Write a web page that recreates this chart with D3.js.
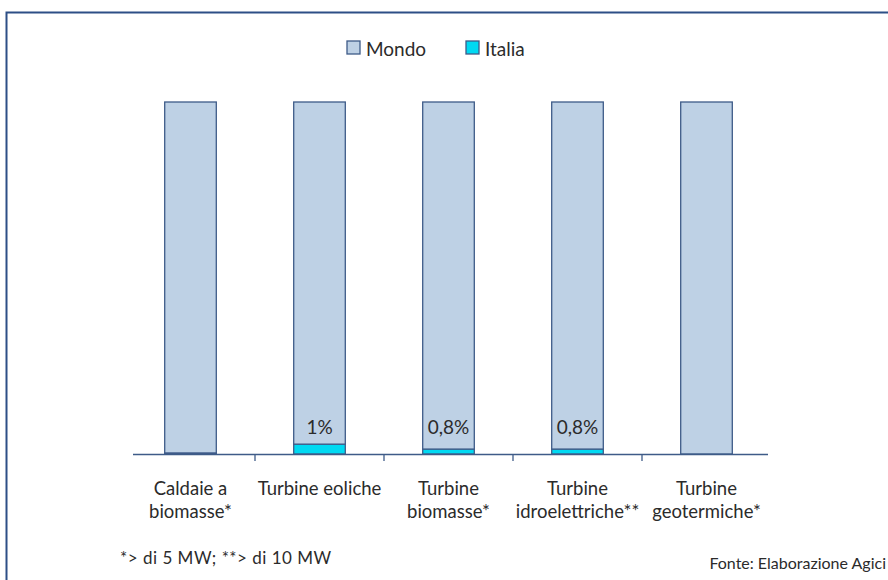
<!DOCTYPE html>
<html>
<head>
<meta charset="utf-8">
<script src="https://cdn.jsdelivr.net/npm/d3@7"></script>
<style>
  body { margin: 0; background: #fff; }
  svg text { font-family: Lato, "Open Sans", sans-serif; fill: #2b2b2b; }
</style>
</head>
<body>
<div id="chart"></div>
<script>
// categories (two lines each)
const categories = [
  ["Caldaie a", "biomasse*"],
  ["Turbine eoliche"],
  ["Turbine", "biomasse*"],
  ["Turbine", "idroelettriche**"],
  ["Turbine", "geotermiche*"]
];
// share of the bar drawn for Italia (as printed), in %
const italiaShare = [0.3, 2.8, 1.4, 1.4, 0];
// value labels printed on bars
const italiaLabels = ["", "1%", "0,8%", "0,8%", ""];
const seriesNames = ["Mondo", "Italia"];

const width = 888, height = 580;
const colorMondo = "#bed1e5";
const colorItalia = "#00d9f2";
const colorLine = "#3e5b88";

const svg = d3.select('#chart').append('svg')
  .attr('width', width)
  .attr('height', height);

// frame
svg.append('path')
  .attr('d', `M6.5,${height} V12.5 H${width}`)
  .attr('fill', 'none')
  .attr('stroke', '#2d4f86')
  .attr('stroke-width', 2);

const x = d3.scaleBand()
  .domain(d3.range(categories.length))
  .range([126, 771])
  .paddingInner(0.6)
  .paddingOuter(0.3);

const y = d3.scaleLinear()
  .domain([0, 100])
  .range([454, 102]);

const rows = categories.map((c, i) => ({ i: i, italia: italiaShare[i], mondo: 100 - italiaShare[i] }));
const stack = d3.stack().keys(["italia", "mondo"])(rows);

// bars
svg.append('g').selectAll('g')
  .data(stack)
  .enter().append('g')
  .attr('fill', d => d.key === "italia" ? colorItalia : colorMondo)
  .selectAll('rect')
  .data(d => d)
  .enter().append('rect')
  .attr('x', d => x(d.data.i))
  .attr('width', x.bandwidth())
  .attr('y', d => y(d[1]))
  .attr('height', d => y(d[0]) - y(d[1]))
  .attr('stroke', colorLine)
  .attr('stroke-width', 1.3);

// value labels (all on one line, just above the Italia segments)
svg.append('g').selectAll('text')
  .data(italiaLabels)
  .enter().append('text')
  .attr('x', (d, i) => x(i) + x.bandwidth() / 2)
  .attr('y', y(0) - 20)
  .attr('text-anchor', 'middle')
  .style('font-size', '19px')
  .text(d => d);

// axis line and ticks between categories
const axisG = svg.append('g');
axisG.append('line')
  .attr('x1', 133).attr('x2', 768)
  .attr('y1', 454.5).attr('y2', 454.5)
  .attr('stroke', colorLine).attr('stroke-width', 1.5);

axisG.selectAll('.tick')
  .data(d3.range(1, categories.length))
  .enter().append('line')
  .attr('x1', d => x(d) - x.step() * x.paddingInner() / 2)
  .attr('x2', d => x(d) - x.step() * x.paddingInner() / 2)
  .attr('y1', 455).attr('y2', 461)
  .attr('stroke', colorLine).attr('stroke-width', 1.3);

// category labels
const labels = svg.append('g').selectAll('text')
  .data(categories)
  .enter().append('text')
  .attr('x', (d, i) => x(i) + x.bandwidth() / 2)
  .attr('y', 495)
  .attr('text-anchor', 'middle')
  .style('font-size', '18.5px');

labels.selectAll('tspan')
  .data(d => d)
  .enter().append('tspan')
  .attr('x', function () { return d3.select(this.parentNode).attr('x'); })
  .attr('dy', (d, i) => i === 0 ? 0 : 23)
  .text(d => d);

// legend
const legend = svg.append('g').selectAll('g')
  .data(seriesNames)
  .enter().append('g')
  .attr('transform', (d, i) => `translate(${347 + i * 119},41)`);

legend.append('rect')
  .attr('width', 13).attr('height', 13)
  .attr('fill', (d, i) => i === 0 ? colorMondo : colorItalia)
  .attr('stroke', colorLine).attr('stroke-width', 1.3);

legend.append('text')
  .attr('x', 19).attr('y', 15)
  .style('font-size', '19px')
  .text(d => d);

// notes
svg.append('text')
  .attr('x', 120).attr('y', 564)
  .style('font-size', '17px')
  .style('letter-spacing', '0.5px')
  .text('*> di 5 MW; **> di 10 MW');

svg.append('text')
  .attr('x', 886).attr('y', 569)
  .attr('text-anchor', 'end')
  .style('font-size', '16px')
  .text('Fonte: Elaborazione Agici');
</script>
</body>
</html>
